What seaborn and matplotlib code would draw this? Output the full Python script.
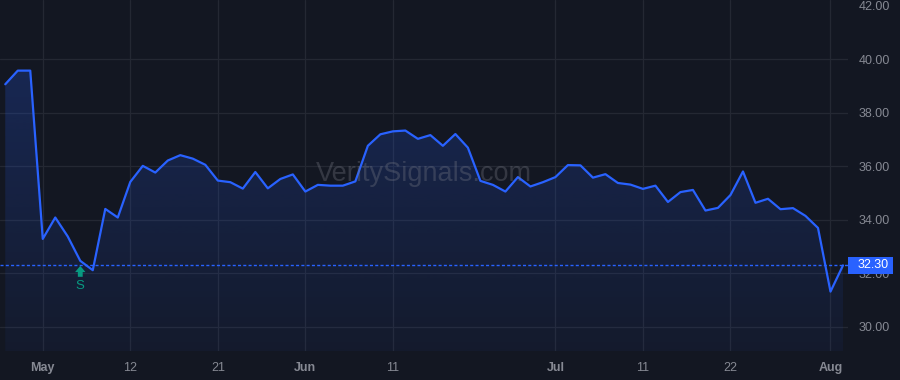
import numpy as np
import pandas as pd
import matplotlib
matplotlib.use("Agg")
import matplotlib.pyplot as plt
import matplotlib.transforms as mtransforms
from matplotlib.colors import to_rgb
from matplotlib.patches import Rectangle
import seaborn as sns

# ---------------- data ----------------
dates = (
    ["2025-04-28", "2025-04-29", "2025-04-30"]
    + ["2025-05-%02d" % d for d in [1, 2, 5, 6, 7, 8, 9, 12, 13, 14, 15, 16, 19, 20, 21, 22, 23, 27, 28, 29, 30]]
    + ["2025-06-%02d" % d for d in [2, 3, 4, 5, 6, 9, 10, 11, 12, 13, 16, 17, 18, 20, 23, 24, 25, 26, 27, 30]]
    + ["2025-07-%02d" % d for d in [1, 2, 3, 7, 8, 9, 10, 11, 14, 15, 16, 17, 18, 21, 22, 23, 24, 25, 28, 29, 30, 31]]
    + ["2025-08-01", "2025-08-04"]
)
prices = [
    39.07, 39.58, 39.58, 33.29, 34.09, 33.38, 32.47, 32.12, 34.41, 34.09,
    35.42, 36.02, 35.77, 36.22, 36.42, 36.29, 36.06, 35.47, 35.41, 35.17,
    35.79, 35.18, 35.53, 35.70, 35.06, 35.31, 35.28, 35.28, 35.44, 36.77,
    37.20, 37.31, 37.34, 37.03, 37.17, 36.77, 37.21, 36.70, 35.46, 35.31,
    35.06, 35.60, 35.25, 35.41, 35.60, 36.05, 36.04, 35.58, 35.71, 35.38,
    35.32, 35.16, 35.28, 34.67, 35.04, 35.12, 34.35, 34.45, 34.93, 35.81,
    34.64, 34.79, 34.40, 34.44, 34.15, 33.70, 31.32, 32.30,
]
tick_dates = ["2025-05-01", "2025-05-12", "2025-05-21", "2025-06-02", "2025-06-11",
              "2025-07-01", "2025-07-11", "2025-07-22", "2025-08-01"]
tick_labels = ["May", "12", "21", "Jun", "11", "Jul", "11", "22", "Aug"]
month_labels = ["May", "Jun", "Jul", "Aug"]
y_ticks = [30, 32, 34, 36, 38, 40, 42]
last_price = 32.30
signal_date = "2025-05-06"
signal_text = "S"
watermark = "VeritySignals.com"

# ---------------- style ----------------
BG = "#131722"
LINE = "#2962ff"
GRID = "#242833"
TXT = "#868993"
SIG = "#089981"

sns.set_style("dark", {"axes.facecolor": BG, "figure.facecolor": BG})
plt.rcParams["font.family"] = ["Liberation Sans", "DejaVu Sans"]

df = pd.DataFrame({"date": dates, "price": prices})
df["idx"] = np.arange(len(df))
pos = {d: i for i, d in enumerate(dates)}

fig = plt.figure(figsize=(9, 3.8), dpi=100, facecolor=BG)
ax = fig.add_axes([0, 1 - 351 / 380, 848 / 900, 351 / 380])
ax.set_facecolor(BG)

xmin, xmax = -0.42, len(df) - 1 + 0.4
ymin, ymax = 29.1, 42.22
ax.set_xlim(xmin, xmax)
ax.set_ylim(ymin, ymax)

# gradient area fill
poly = ax.fill_between(df["idx"], df["price"], ymin, color="none", lw=0)
r, g, b = to_rgb(LINE)
n = 256
grad = np.zeros((n, 1, 4))
grad[..., 0], grad[..., 1], grad[..., 2] = r, g, b
grad[..., 3] = np.linspace(0.05, 0.22, n).reshape(n, 1)
im = ax.imshow(grad, extent=[xmin, xmax, ymin, max(prices)], origin="lower",
               aspect="auto", zorder=1, interpolation="bilinear")
im.set_clip_path(poly.get_paths()[0], transform=ax.transData)

sns.lineplot(data=df, x="idx", y="price", ax=ax, color=LINE, linewidth=1.6, zorder=3)

# last-price dotted line
ax.axhline(last_price, color=LINE, linewidth=1.0, linestyle=(0, (2.2, 1.6)), zorder=2)

# axes / ticks
ax.set_xlabel("")
ax.set_ylabel("")
ax.set_xticks([pos[d] for d in tick_dates])
ax.set_xticklabels(tick_labels)
for lab in ax.get_xticklabels():
    if lab.get_text() in month_labels:
        lab.set_fontweight("bold")
ax.yaxis.tick_right()
ax.set_yticks(y_ticks)
ax.set_yticklabels([f"{v:.2f}" for v in y_ticks])
ax.tick_params(axis="x", length=0, pad=8, labelsize=9, labelcolor=TXT)
ax.tick_params(axis="y", length=0, pad=7.5, labelsize=9, labelcolor=TXT)
ax.grid(True, color=GRID, linewidth=0.9)
ax.get_ygridlines()[-1].set_visible(False)
for s in ax.spines.values():
    s.set_visible(False)

# watermark
ax.text(0.5, 0.504, watermark, transform=ax.transAxes, ha="center", va="center",
        fontsize=19.5, color="#787b86", alpha=0.33, zorder=4)

# signal marker
si = pos[signal_date]
sp = prices[si]
tip_tr = mtransforms.offset_copy(ax.transData, fig=fig, x=0, y=-3.6, units="points")
base_tr = mtransforms.offset_copy(ax.transData, fig=fig, x=0, y=-11.5, units="points")
ax.annotate("", xy=(si, sp), xycoords=tip_tr,
            xytext=(si, sp), textcoords=base_tr,
            arrowprops=dict(arrowstyle="simple,head_length=0.45,head_width=0.75,tail_width=0.35",
                            color=SIG, lw=0, shrinkA=0, shrinkB=0), zorder=5)
ax.text(si, sp, signal_text,
        transform=mtransforms.offset_copy(ax.transData, fig=fig, x=0, y=-18, units="points"),
        ha="center", va="center", fontsize=9.5, color=SIG, zorder=5)

# last-price label box on right axis
fig.canvas.draw()
ydisp = ax.transData.transform((0, last_price))[1]
x0 = ax.get_position().x1 * fig.bbox.width
box_w, box_h = 45, 17
rect = Rectangle((x0, ydisp - box_h / 2), box_w, box_h, transform=None,
                 facecolor=LINE, edgecolor="none", zorder=10)
fig.patches.append(rect)
rect.set_figure(fig)
fig.text((x0 + 9.5) / fig.bbox.width, ydisp / fig.bbox.height, f"{last_price:.2f}",
         ha="left", va="center", fontsize=9, color="white", zorder=11)

fig.savefig("out.png", dpi=100, facecolor=BG)
